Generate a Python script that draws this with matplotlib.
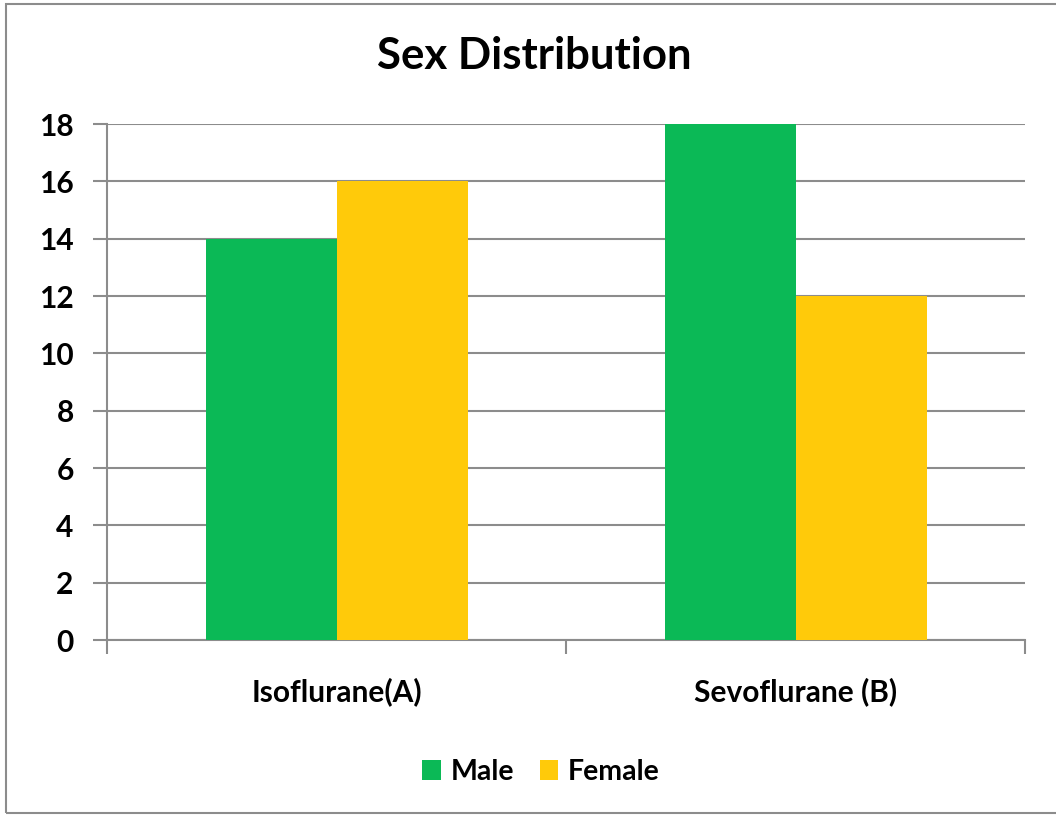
import matplotlib
matplotlib.use("Agg")
import matplotlib.pyplot as plt
from matplotlib.patches import Rectangle
import numpy as np

categories = ["Isoflurane(A)", "Sevoflurane (B)"]
male = [14, 18]
female = [16, 12]
series_names = ["Male", "Female"]
y_ticks = [0, 2, 4, 6, 8, 10, 12, 14, 16, 18]

GREEN = "#0BB956"
YELLOW = "#FFCA0A"
GRID = "#8C8C8C"
FONT = "Lato"
WEIGHT = "bold"

fig = plt.figure(figsize=(10.56, 8.15), dpi=100)
W, H = 1056, 815

# outer chart frame
fig.patches.append(Rectangle((6 / W, 1 - 813 / H), 1.2, (813 - 4) / H,
                             transform=fig.transFigure, fill=False,
                             edgecolor="#8C8C8C", linewidth=1.5, zorder=0))

ax = fig.add_axes([107 / W, 1 - 640 / H, (1025 - 107) / W, (640 - 124) / H])

x = np.arange(len(categories))
bw = 131 / 459
ax.bar(x - bw / 2, male, width=bw, color=GREEN, label=series_names[0], zorder=3)
ax.bar(x + bw / 2, female, width=bw, color=YELLOW, label=series_names[1], zorder=3)

ax.set_xlim(-0.5, len(categories) - 0.5)
ax.set_ylim(0, 18)
ax.set_yticks(y_ticks)
ax.set_yticklabels([str(v) for v in y_ticks], fontsize=21.5, fontweight=WEIGHT,
                   fontfamily=FONT)
ax.yaxis.grid(True, color=GRID, linewidth=1.5, zorder=0)
ax.set_axisbelow(True)

# category labels between boundary ticks
ax.set_xticks(x)
ax.set_xticklabels(categories, fontsize=21.5, fontweight=WEIGHT, fontfamily=FONT)
ax.tick_params(axis="x", length=0, pad=27)
ax.set_xticks(np.arange(-0.5, len(categories)), minor=True)
ax.tick_params(axis="x", which="minor", length=10, width=1.5, color=GRID)
ax.tick_params(axis="y", length=10, width=1.5, color=GRID, pad=14)

for s in ["top", "right"]:
    ax.spines[s].set_visible(False)
for s in ["left", "bottom"]:
    ax.spines[s].set_color(GRID)
    ax.spines[s].set_linewidth(1.5)

fig.text(534 / W, 1 - 56 / H, "Sex Distribution", ha="center", va="center",
         fontsize=31.5, fontweight=WEIGHT, fontfamily=FONT)

leg = fig.legend(loc="center", bbox_to_anchor=(541 / W, 1 - 772 / H),
                 ncol=2, frameon=False,
                 prop={"family": FONT, "weight": WEIGHT, "size": 20.5},
                 handlelength=0.65, handleheight=0.65, handletextpad=0.35,
                 columnspacing=0.9)

fig.savefig("out.png", dpi=100)
